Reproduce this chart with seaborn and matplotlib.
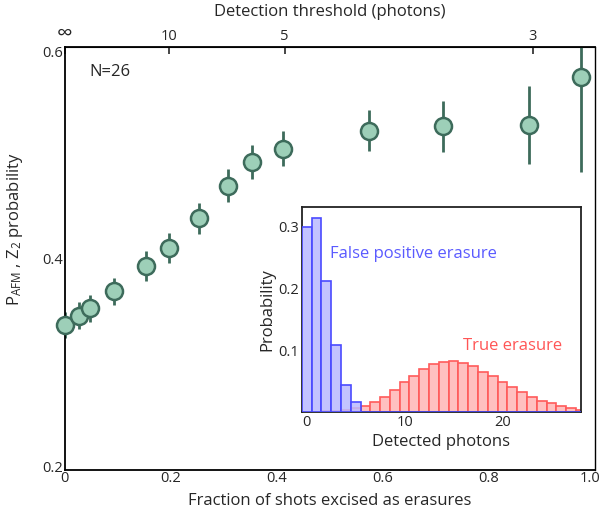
import numpy as np
import pandas as pd
import matplotlib
matplotlib.use("Agg")
import matplotlib.pyplot as plt
import matplotlib.transforms as mtransforms
import seaborn as sns

# main panel: Z2 probability vs fraction of shots excised
fraction = [0.0, 0.027, 0.047, 0.092, 0.154, 0.197, 0.253, 0.308, 0.353, 0.411,
            0.574, 0.714, 0.877, 0.975]
prob = [0.337, 0.346, 0.353, 0.369, 0.393, 0.410, 0.438, 0.469, 0.491, 0.504,
        0.521, 0.525, 0.526, 0.572]
prob_err = [0.012, 0.0126, 0.0126, 0.013, 0.0139, 0.014, 0.0146, 0.0156, 0.016, 0.017,
            0.0196, 0.024, 0.037, 0.090]

# top axis: detection threshold
threshold_pos = [0.0, 0.196, 0.415, 0.883]
threshold_labels = ["\u221e", "10", "5", "3"]

# inset: photon histograms
photons = list(range(0, 29))
false_pos = [0.300, 0.315, 0.213, 0.108, 0.043, 0.016] + [0.0] * 23
true_erasure = [0.0, 0.0, 0.001, 0.002, 0.004, 0.006, 0.009, 0.016, 0.025, 0.036,
                0.048, 0.059, 0.069, 0.077, 0.081, 0.083, 0.080, 0.075, 0.065, 0.058,
                0.048, 0.040, 0.032, 0.025, 0.018, 0.014, 0.010, 0.006, 0.004]

sns.set_style("white")
plt.rcParams["font.family"] = ["Open Sans", "DejaVu Sans"]
plt.rcParams["mathtext.default"] = "regular"

face = "#9dcfb8"
edge = "#3d6b5b"

fig = plt.figure(figsize=(6, 5.16), dpi=100)
ax = fig.add_axes([0.108, 0.089, 0.883, 0.820])

ax.errorbar(fraction, prob, yerr=prob_err, fmt="none", ecolor=edge, elinewidth=2, zorder=2)
sns.scatterplot(x=fraction, y=prob, ax=ax, s=150, color=face, edgecolor=edge,
                linewidth=1.8, zorder=3, clip_on=False)

ax.set_xlim(0, 1.0)
ax.set_ylim(0.2, 0.6)
ax.set_xticks([0, 0.2, 0.4, 0.6, 0.8, 1.0])
ax.set_xticklabels(["0", "0.2", "0.4", "0.6", "0.8", "1.0"])
ax.set_yticks([0.2, 0.4, 0.6])
ax.tick_params(direction="in", length=5, width=1.2, labelsize=10.5, pad=1)
ax.set_xlabel("Fraction of shots excised as erasures", fontsize=12, labelpad=5)
ax.set_ylabel("P$_{AFM}$ , Z$_2$ probability", fontsize=12)
ax.yaxis.set_label_coords(-0.075, 0.57)
for s in ax.spines.values():
    s.set_color("black")
    s.set_linewidth(1.3)
ax.spines["right"].set_linewidth(1.0)

# nudge corner tick labels like the original
xl = ax.get_xticklabels()
xl[-1].set_transform(xl[-1].get_transform() + mtransforms.ScaledTranslation(-5 / 100, 0, fig.dpi_scale_trans))
yl = ax.get_yticklabels()
yl[0].set_transform(yl[0].get_transform() + mtransforms.ScaledTranslation(0, 4 / 100, fig.dpi_scale_trans))
yl[-1].set_transform(yl[-1].get_transform() + mtransforms.ScaledTranslation(0, -5 / 100, fig.dpi_scale_trans))

ax.text(0.047, 0.576, "N=26", fontsize=12, va="center")

top = ax.secondary_xaxis("top")
top.set_xticks(threshold_pos)
top.set_xticklabels(threshold_labels)
top.tick_params(direction="in", length=5, width=1.2, labelsize=10.5, pad=2)
top.get_xticklabels()[0].set_fontsize(16)
top.set_xlabel("Detection threshold (photons)", fontsize=12, labelpad=5)

# inset
ins = fig.add_axes([0.503, 0.2016, 0.465, 0.397])
df = pd.DataFrame({"photons": photons, "false": false_pos, "true": true_erasure})
sns.histplot(data=df, x="photons", weights="true", discrete=True, ax=ins,
             color="#ffc0c0", edgecolor="#ff5a5a", linewidth=1.2, alpha=1, zorder=2)
sns.histplot(data=df, x="photons", weights="false", discrete=True, ax=ins,
             color="#b9b9ff", edgecolor="#4a4aff", linewidth=1.2, alpha=0.85, zorder=3)
ins.set_xlim(-0.5, 28)
ins.set_ylim(0, 0.332)
ins.set_xticks([0, 10, 20])
ins.set_yticks([0.1, 0.2, 0.3])
ins.tick_params(direction="in", length=4, width=1.2, labelsize=10.5, pad=2)
ins.set_xlabel("Detected photons", fontsize=12, labelpad=3)
ins.set_ylabel("Probability", fontsize=12, labelpad=2)
for s in ins.spines.values():
    s.set_color("#222222")
    s.set_linewidth(1.3)
ins.text(2.35, 0.2556, "False positive erasure", color="#5a5aff", fontsize=12, va="center")
ins.text(16.0, 0.107, "True erasure", color="#ff5555", fontsize=12, va="center")

fig.savefig("out.png", dpi=100)
